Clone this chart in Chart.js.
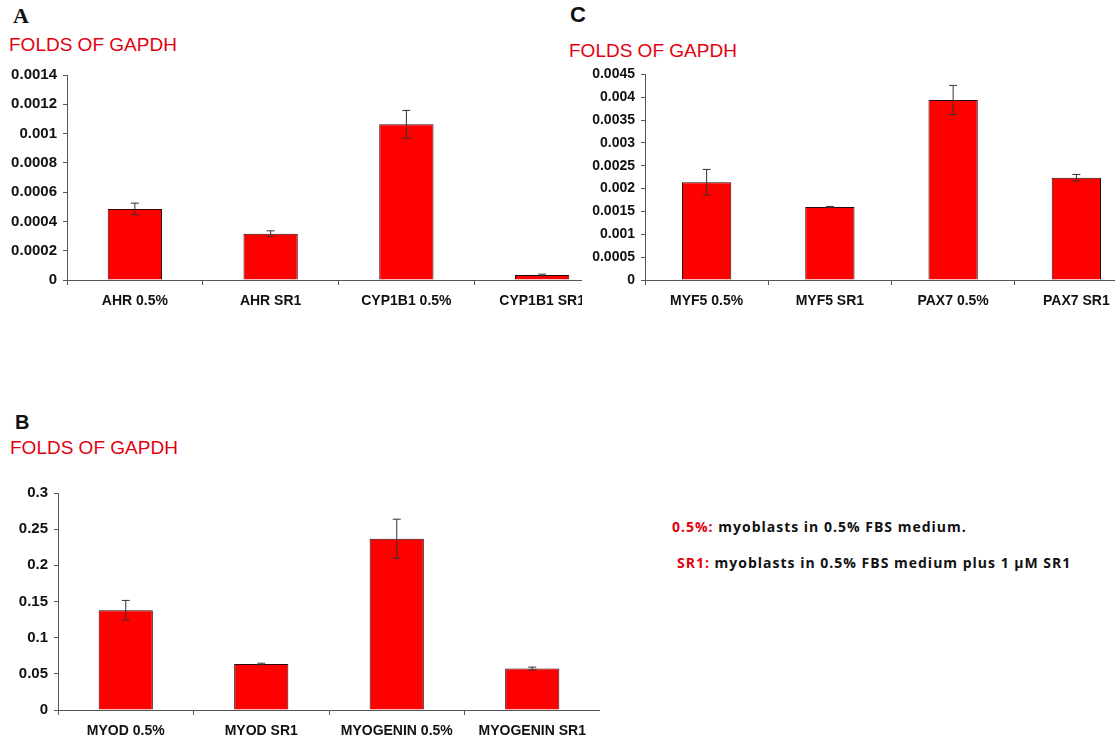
<!DOCTYPE html>
<html>
<head>
<meta charset="utf-8">
<script src="https://cdn.jsdelivr.net/npm/chart.js@4"></script>
<style>
    html, body { margin: 0; padding: 0; background: #fff; overflow: hidden; width: 1115px; height: 748px; }
    .abs { position: absolute; }
    .letter { position: absolute; font-weight: bold; color: #111; line-height: 1; }
    .ytitle { position: absolute; font-family: "Liberation Sans", Arial, sans-serif; font-size: 19px; color: #e3000f; line-height: 1; }
    .note { position: absolute; font-family: "Open Sans", sans-serif; font-weight: 700; font-size: 14px; letter-spacing: 1px; color: #111; white-space: nowrap; line-height: 1; }
    .note span { color: #e3000f; }
</style>
</head>
<body>
<div class="letter" style="left:13px; top:5px; font-family:'Liberation Serif', 'Times New Roman', serif; font-size:22px;">A</div>
<div class="ytitle" style="left:9px; top:35px;">FOLDS OF GAPDH</div>
<div class="letter" style="left:570px; top:4px; font-family:'Liberation Sans', Arial, sans-serif; font-size:22px;">C</div>
<div class="ytitle" style="left:569px; top:41px;">FOLDS OF GAPDH</div>
<div class="letter" style="left:15px; top:412px; font-family:'Liberation Sans', Arial, sans-serif; font-size:20px;">B</div>
<div class="ytitle" style="left:10px; top:438px;">FOLDS OF GAPDH</div>

<div class="abs" style="left:0; top:60px; width:582px; height:270px; overflow:hidden;">
    <canvas id="chartA" width="610" height="262"></canvas>
</div>
<div class="abs" style="left:560px; top:60px; width:555px; height:270px; overflow:hidden;">
    <canvas id="chartC" width="578" height="262"></canvas>
</div>
<div class="abs" style="left:0; top:470px; width:610px; height:278px;">
    <canvas id="chartB" width="600" height="278"></canvas>
</div>

<div class="note" style="left:672px; top:520px;"><span>0.5%:</span> myoblasts in 0.5% FBS medium.</div>
<div class="note" style="left:677px; top:556px;"><span>SR1:</span> myoblasts in 0.5% FBS medium plus 1 &micro;M SR1</div>

<script>
// Panel A
const catsA = ['AHR 0.5%', 'AHR SR1', 'CYP1B1 0.5%', 'CYP1B1 SR1'];
const valsA = [0.000485, 0.000316, 0.001063, 0.000034];
const errA = [0.00004, 0.00002, 0.000095, 0.000006];

// Panel B
const catsB = ['MYOD 0.5%', 'MYOD SR1', 'MYOGENIN 0.5%', 'MYOGENIN SR1'];
const valsB = [0.138, 0.0637, 0.2368, 0.0573];
const errB = [0.0135, 0.001, 0.027, 0.002];

// Panel C
const catsC = ['MYF5 0.5%', 'MYF5 SR1', 'PAX7 0.5%', 'PAX7 SR1'];
const valsC = [0.00214, 0.0016, 0.00394, 0.00224];
const errC = [0.00028, 0.00001, 0.00032, 0.00007];

// y axis ranges [max, step]
const axisA = [0.0014, 0.0002];
const axisB = [0.3, 0.05];
const axisC = [0.0045, 0.0005];

// draws the error bars using the chart's own y scale
const errorBars = {
    id: 'errorBars',
    afterDatasetsDraw(chart, args, opts) {
        const ctx = chart.ctx;
        const yScale = chart.scales.y;
        const errs = opts.errors || [];
        const vals = chart.data.datasets[0].data;
        chart.getDatasetMeta(0).data.forEach((bar, i) => {
            const x = bar.x;
            const top = yScale.getPixelForValue(vals[i] + errs[i]);
            const bot = yScale.getPixelForValue(vals[i] - errs[i]);
            ctx.save();
            ctx.strokeStyle = '#333';
            ctx.lineWidth = 1;
            ctx.beginPath();
            ctx.moveTo(x, top); ctx.lineTo(x, bot);
            ctx.moveTo(x - 4, top); ctx.lineTo(x + 4, top);
            ctx.moveTo(x - 4, bot); ctx.lineTo(x + 4, bot);
            ctx.stroke();
            ctx.restore();
        });
    }
};

function makeChart(id, cats, vals, errs, axis, yWidth, topPad, xHeight, yFont) {
    return new Chart(document.getElementById(id), {
        type: 'bar',
        data: {
            labels: cats,
            datasets: [{
                data: vals,
                backgroundColor: '#ff0000',
                borderColor: '#2a0a0a',
                borderWidth: 1,
                categoryPercentage: 1,
                barPercentage: 0.4
            }]
        },
        options: {
            responsive: false,
            animation: false,
            layout: { padding: { top: topPad, left: 0, right: 0, bottom: 0 } },
            plugins: {
                legend: { display: false },
                tooltip: { enabled: false },
                errorBars: { errors: errs }
            },
            scales: {
                x: {
                    afterFit: s => { s.height = xHeight; },
                    grid: { drawOnChartArea: false, drawTicks: true, tickLength: 5, color: '#555' },
                    border: { display: true, color: '#555', width: 1 },
                    ticks: {
                        color: '#111',
                        padding: 8,
                        maxRotation: 0,
                        autoSkip: false,
                        font: { family: 'Liberation Sans, Arial, sans-serif', size: 14, weight: 'bold' }
                    }
                },
                y: {
                    min: 0,
                    max: axis[0],
                    afterFit: s => { s.width = yWidth; },
                    grid: { drawOnChartArea: false, drawTicks: true, tickLength: 4, color: '#555' },
                    border: { display: true, color: '#555', width: 1 },
                    ticks: {
                        stepSize: axis[1],
                        color: '#111',
                        padding: 6,
                        font: { family: 'Liberation Sans, Arial, sans-serif', size: yFont, weight: 'bold' },
                        callback: v => String(parseFloat(Number(v).toFixed(6)))
                    }
                }
            }
        },
        plugins: [errorBars]
    });
}

makeChart('chartA', catsA, valsA, errA, axisA, 67, 14, 42, 15);
makeChart('chartC', catsC, valsC, errC, axisC, 85, 14, 42, 14);
makeChart('chartB', catsB, valsB, errB, axisB, 58, 23, 38, 15);
</script>
</body>
</html>
